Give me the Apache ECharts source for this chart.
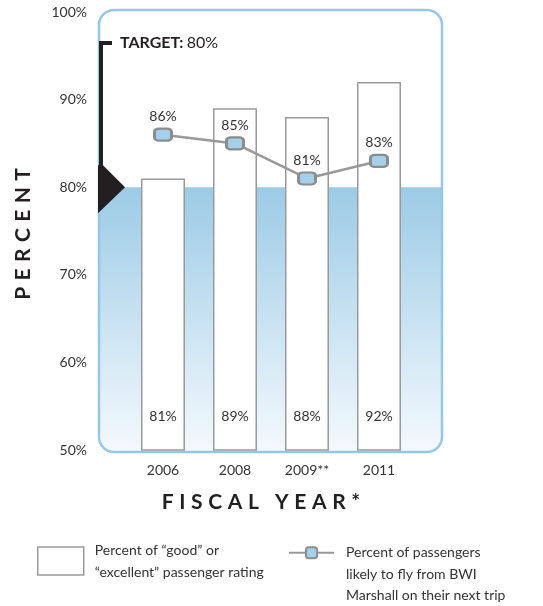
<!DOCTYPE html>
<html>
<head>
<meta charset="utf-8">
<script src="https://cdn.jsdelivr.net/npm/echarts@6/dist/echarts.min.js"></script>
<style>
  html, body { margin: 0; padding: 0; background: #ffffff; }
  #chart { width: 543px; height: 606px; }
</style>
</head>
<body>
<div id="chart"></div>
<script>
// Fiscal years on the category axis
const years = ['2006', '2008', '2009**', '2011'];
// Percent of "good" or "excellent" passenger rating (bars)
const ratingValues = [81, 89, 88, 92];
// Percent of passengers likely to fly from BWI Marshall on their next trip (line)
const likelyValues = [86, 85, 81, 83];
// Value axis range and the target level
const yMin = 50;
const yMax = 100;
const yStep = 10;
const targetValue = 80;

const barName = 'Percent of \u201Cgood\u201D or\n\u201Cexcellent\u201D passenger rating';
const lineName = 'Percent of passengers\nlikely to fly from BWI\nMarshall on their next trip';

const FONT = 'Lato, "Open Sans", sans-serif';

// Builds a letter-spaced title out of rich-text tokens
function spaced(text) {
  return text.split('').map(function (ch) {
    return ch === ' ' ? '{g| }' : '{s|' + ch + '}';
  }).join('');
}
function spacedRich(size, pad) {
  return {
    s: { fontFamily: FONT, fontWeight: 'bold', fontSize: size, color: '#231f20', padding: [0, pad, 0, pad] },
    g: { fontFamily: FONT, fontWeight: 'bold', fontSize: size, color: '#231f20', padding: [0, pad, 0, pad] }
  };
}

const chart = echarts.init(document.getElementById('chart'), null, { renderer: 'canvas' });

chart.setOption({
  animation: false,
  backgroundColor: '#ffffff',
  textStyle: { fontFamily: FONT },
  grid: { left: 127, right: 128, top: 12, bottom: 156 },
  legend: [
    {
      data: [barName],
      left: 32, top: 534,
      itemWidth: 46, itemHeight: 28,
      icon: 'rect',
      itemStyle: { color: '#ffffff', borderColor: '#9a9a9a', borderWidth: 1.5 },
      textStyle: { fontFamily: FONT, fontSize: 14, lineHeight: 22, color: '#333333', padding: [0, 0, 0, 6] },
      selectedMode: false
    },
    {
      data: [lineName],
      left: 283, top: 494,
      itemWidth: 45, itemHeight: 14,
      // two leading empty lines put the first text line level with the icon
      formatter: function (name) { return '\n\n' + name; },
      textStyle: { fontFamily: FONT, fontSize: 14, lineHeight: 21.5, color: '#333333', padding: [0, 0, 0, 7] },
      selectedMode: false
    }
  ],
  xAxis: {
    type: 'category',
    data: years,
    axisLine: { show: false },
    axisTick: { show: false },
    axisLabel: { fontFamily: FONT, fontSize: 14, color: '#333333', margin: 13 },
    name: spaced('FISCAL YEAR*'),
    nameLocation: 'middle',
    nameGap: 42,
    nameTextStyle: { padding: [0, 20, 0, 0], rich: spacedRich(21, 2.8) }
  },
  yAxis: {
    type: 'value',
    min: yMin, max: yMax, interval: yStep,
    axisLine: { show: false },
    axisTick: { show: false },
    splitLine: { show: false },
    axisLabel: { fontFamily: FONT, fontSize: 14, color: '#333333', margin: 40, formatter: '{value}%' },
    name: spaced('PERCENT'),
    nameLocation: 'middle',
    nameRotate: 90,
    nameGap: 93,
    nameTextStyle: { padding: [0, 6, 0, 0], rich: spacedRich(21, 3.2) }
  },
  series: [
    {
      name: barName,
      type: 'bar',
      data: ratingValues,
      barWidth: 44,
      z: 3,
      itemStyle: { color: '#ffffff', borderColor: '#9a9a9a', borderWidth: 1.5 },
      label: {
        show: true, position: 'insideBottom', distance: 27,
        formatter: '{c}%', fontFamily: FONT, fontSize: 14, color: '#333333'
      }
    },
    {
      name: lineName,
      type: 'line',
      data: likelyValues,
      z: 5,
      symbol: 'roundRect',
      symbolSize: [17, 12],
      lineStyle: { color: '#999999', width: 2.5 },
      itemStyle: { color: '#a3d0ea', borderColor: '#8c8c8c', borderWidth: 2.5 },
      label: {
        show: true, position: 'top', distance: 4,
        formatter: '{c}%', fontFamily: FONT, fontSize: 14, color: '#333333'
      }
    }
  ]
});

// Rounded panel, shaded zone below the target and the target marker,
// all placed from the value axis scale
const yTop = chart.convertToPixel({ yAxisIndex: 0 }, yMax);
const yBottom = chart.convertToPixel({ yAxisIndex: 0 }, yMin);
const yTarget = chart.convertToPixel({ yAxisIndex: 0 }, targetValue);
const boxLeft = 99, boxRight = 442;
const boxTop = yTop - 2, boxBottom = yBottom + 2;

chart.setOption({
  graphic: [
    {
      type: 'rect', z: 0, silent: true,
      shape: { x: boxLeft, y: yTarget, width: boxRight - boxLeft, height: boxBottom - yTarget, r: [0, 0, 14, 14] },
      style: {
        fill: new echarts.graphic.LinearGradient(0, 0, 0, 1, [
          { offset: 0, color: '#9ccbe6' },
          { offset: 1, color: '#f4f9fd' }
        ])
      }
    },
    {
      type: 'rect', z: 1, silent: true,
      shape: { x: boxLeft, y: boxTop, width: boxRight - boxLeft, height: boxBottom - boxTop, r: 15 },
      style: { fill: null, stroke: '#93c8e7', lineWidth: 2.5 }
    },
    {
      type: 'polyline', z: 20, silent: true,
      shape: { points: [[112, yTop + 31], [101, yTop + 31], [101, yTarget - 20]] },
      style: { stroke: '#231f20', lineWidth: 4, fill: null }
    },
    {
      type: 'polygon', z: 20, silent: true,
      shape: { points: [[98, yTarget - 22], [103, yTarget - 22], [125, yTarget], [98, yTarget + 26]] },
      style: { fill: '#231f20' }
    },
    {
      type: 'text', z: 20, silent: true,
      x: 120, y: yTop + 31,
      style: {
        text: '{b|TARGET:} {n|80%}',
        verticalAlign: 'middle',
        rich: {
          b: { fontFamily: FONT, fontWeight: 'bold', fontSize: 16, fill: '#231f20' },
          n: { fontFamily: FONT, fontSize: 16, fill: '#231f20' }
        }
      }
    }
  ]
});
</script>
</body>
</html>
